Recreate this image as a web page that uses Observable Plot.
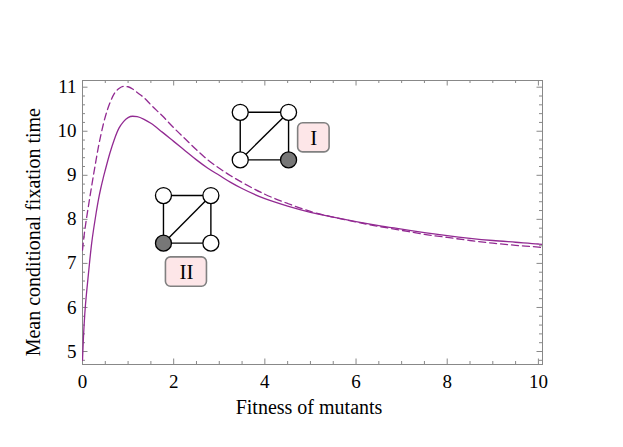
<!DOCTYPE html>
<html>
<head>
<meta charset="utf-8">
<script src="https://cdn.jsdelivr.net/npm/d3@7"></script>
<script src="https://cdn.jsdelivr.net/npm/@observablehq/plot@0.6"></script>
<style>
  html, body { margin: 0; padding: 0; background: white; }
</style>
</head>
<body>
<div id="chart"></div>
<script>
// Fitness of mutants (x) and mean conditional fixation times for the two graphs
const fitness = [0, 0.02, 0.05, 0.1, 0.15, 0.2, 0.25, 0.3, 0.35, 0.4, 0.45, 0.5, 0.6, 0.7, 0.8, 0.9, 1.0, 1.1, 1.2, 1.35, 1.5, 1.75, 2.0, 2.25, 2.5, 2.75, 3.0, 3.25, 3.5, 4.0, 4.5, 5.0, 5.5, 6.0, 6.5, 7.0, 7.5, 8.0, 8.5, 9.0, 9.5, 10.0, 10.09];
const timeSolid = [4.8, 5.3, 5.85, 6.45, 6.97, 7.45, 7.82, 8.15, 8.45, 8.7, 8.92, 9.12, 9.5, 9.82, 10.07, 10.22, 10.31, 10.34, 10.33, 10.27, 10.18, 9.98, 9.77, 9.56, 9.35, 9.16, 9.0, 8.84, 8.7, 8.47, 8.3, 8.16, 8.05, 7.95, 7.86, 7.78, 7.7, 7.63, 7.57, 7.52, 7.48, 7.44, 7.43];
const timeDashed = [7.3, 7.5, 7.75, 8.1, 8.43, 8.75, 9.06, 9.36, 9.65, 9.9, 10.13, 10.33, 10.64, 10.86, 10.97, 11.02, 11.01, 10.96, 10.88, 10.76, 10.6, 10.35, 10.08, 9.83, 9.58, 9.35, 9.16, 8.99, 8.84, 8.57, 8.36, 8.18, 8.05, 7.94, 7.84, 7.75, 7.66, 7.59, 7.52, 7.46, 7.41, 7.37, 7.36];

// Axis ticks
const xMajor = [0, 2, 4, 6, 8, 10];
const xMinor = d3.range(0.5, 10.01, 0.5).filter(v => Math.abs(v / 2 - Math.round(v / 2)) > 1e-6);
const yMajor = [5, 6, 7, 8, 9, 10, 11];
const yMinor = d3.range(4.8, 11.11, 0.2).map(v => +v.toFixed(1)).filter(v => Math.abs(v - Math.round(v)) > 1e-6);

// Graph icons (annotations, in data coordinates)
const nodeXI = [3.46, 4.52, 3.46, 4.52];
const nodeYI = [10.43, 10.43, 9.35, 9.35];
const filledI = [false, false, false, true];
const nodeXII = [1.776, 2.816, 1.776, 2.816];
const nodeYII = [8.54, 8.54, 7.46, 7.46];
const filledII = [false, false, true, false];
// edges between node indices: 0=TL, 1=TR, 2=BL, 3=BR
const edgePairs = [[0, 1], [1, 3], [3, 2], [2, 0], [2, 1]];
const labelText = ["I", "II"];
const labelX1 = [4.73, 1.83];
const labelX2 = [5.42, 2.73];
const labelY1 = [9.52, 6.47];
const labelY2 = [10.18, 7.136];

const solidData = fitness.map((f, i) => ({f, t: timeSolid[i]}));
const dashedData = fitness.map((f, i) => ({f, t: timeDashed[i]}));
function nodes(xs, ys, filled) { return xs.map((x, i) => ({x, y: ys[i], filled: filled[i]})); }
function edges(xs, ys) { return edgePairs.map(([a, b]) => ({x1: xs[a], y1: ys[a], x2: xs[b], y2: ys[b]})); }
const allNodes = nodes(nodeXI, nodeYI, filledI).concat(nodes(nodeXII, nodeYII, filledII));
const allEdges = edges(nodeXI, nodeYI).concat(edges(nodeXII, nodeYII));
const labels = labelText.map((t, i) => ({t, x1: labelX1[i], x2: labelX2[i], y1: labelY1[i], y2: labelY2[i]}));

const W = 623, H = 447, mL = 82, mR = 81, mT = 80, mB = 83;
const fw = W - mL - mR, fh = H - mT - mB;
const majorLen = 5.5, minorLen = 3;
const tickColor = "#888";
const purple = "#922a92";

const chart = Plot.plot({
  width: W,
  height: H,
  marginLeft: mL,
  marginRight: mR,
  marginTop: mT,
  marginBottom: mB,
  style: {fontFamily: "'Liberation Serif', 'DejaVu Serif', serif", fontSize: "19px", background: "white", color: "black"},
  x: {domain: [0, 10.09]},
  y: {domain: [4.705, 11.152]},
  marks: [
    Plot.frame({stroke: tickColor, strokeWidth: 1}),
    // bottom & top ticks
    Plot.tickX(xMajor, {x: d => d, insetTop: fh - majorLen, stroke: tickColor}),
    Plot.tickX(xMinor, {x: d => d, insetTop: fh - minorLen, stroke: tickColor}),
    Plot.tickX(xMajor, {x: d => d, insetBottom: fh - majorLen, stroke: tickColor}),
    Plot.tickX(xMinor, {x: d => d, insetBottom: fh - minorLen, stroke: tickColor}),
    // left & right ticks
    Plot.tickY(yMajor, {y: d => d, insetRight: fw - majorLen, stroke: tickColor}),
    Plot.tickY(yMinor, {y: d => d, insetRight: fw - minorLen, stroke: tickColor}),
    Plot.tickY(yMajor, {y: d => d, insetLeft: fw - majorLen, stroke: tickColor}),
    Plot.tickY(yMinor, {y: d => d, insetLeft: fw - minorLen, stroke: tickColor}),
    Plot.axisX({ticks: xMajor, tickSize: 0, tickPadding: 9.5, tickFormat: d => String(d), label: null, fontSize: 19}),
    Plot.axisY({ticks: yMajor, tickSize: 0, tickPadding: 6, tickFormat: d => String(d), label: null, fontSize: 19}),
    Plot.line(dashedData, {x: "f", y: "t", stroke: purple, strokeWidth: 1.3, strokeDasharray: "7,4", curve: "monotone-x", clip: true}),
    Plot.line(solidData, {x: "f", y: "t", stroke: purple, strokeWidth: 1.3, curve: "monotone-x", clip: true}),
    Plot.link(allEdges, {x1: "x1", y1: "y1", x2: "x2", y2: "y2", stroke: "black", strokeWidth: 1.4}),
    Plot.dot(allNodes, {x: "x", y: "y", r: 8, fill: d => d.filled ? "#777" : "white", stroke: "black", strokeWidth: 1.3}),
    Plot.rect(labels, {x1: "x1", x2: "x2", y1: "y1", y2: "y2", fill: "#fde6e8", stroke: "#808080", strokeWidth: 1.6, rx: 5}),
    Plot.text(labels, {x: d => (d.x1 + d.x2) / 2, y: d => (d.y1 + d.y2) / 2, text: "t", fontSize: 21, fill: "black"}),
    Plot.text(["Fitness of mutants"], {text: d => d, frameAnchor: "bottom", textAnchor: "middle", lineAnchor: "middle", dx: -3.5, dy: 43, fontSize: 20, fill: "black"}),
    Plot.text(["Mean conditional fixation time"], {text: d => d, frameAnchor: "left", textAnchor: "middle", lineAnchor: "middle", rotate: -90, dx: -49, dy: 9.7, fontSize: 20, fill: "black"})
  ]
});
document.getElementById("chart").appendChild(chart);
</script>
</body>
</html>
